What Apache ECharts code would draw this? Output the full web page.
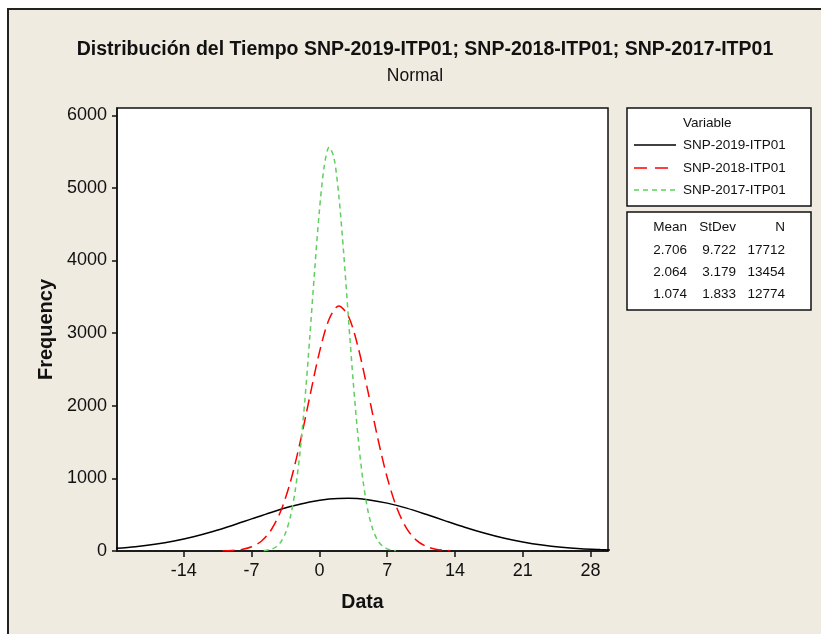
<!DOCTYPE html>
<html>
<head>
<meta charset="utf-8">
<script src="https://cdn.jsdelivr.net/npm/echarts@6/dist/echarts.min.js"></script>
<style>
html,body{margin:0;padding:0;background:#fff;}
#chart{width:821px;height:634px;}
</style>
</head>
<body>
<div id="chart"></div>
<script>
// curvas (Data, Frequency)
var x2019 = [-21,-19,-17,-15,-13,-11,-9,-7,-5,-3,-1,1,3,5,7,9,11,13,15,17,19,21,23,25,27,29,30];
var y2019 = [37,60,93,138,197,269,352,442,531,612,676,716,727,707,659,590,505,415,327,247,178,124,82,52,32,19,14];

var x2018 = [-10,-9,-8,-7,-6,-5,-4,-3,-2,-1,0,1,2,3,4,5,6,7,8,9,10,11,12,13,13.5];
var y2018 = [2,8,22,58,135,286,547,949,1491,2122,2735,3192,3375,3233,2804,2204,1569,1011,591,312,150,65,25,9,5];

var x2017 = [-5.75,-5,-4.5,-4,-3.5,-3,-2.5,-2,-1.5,-1,-0.5,0,0.5,1,1.5,2,2.5,3,3.5,4,4.5,5,5.5,6,6.5,7,7.5,7.9];
var y2017 = [5,23,55,121,247,471,832,1364,2076,2934,3849,4687,5299,5560,5417,4898,4112,3204,2318,1556,970,561,302,150,70,30,12,5];

var seriesNames = ['SNP-2019-ITP01','SNP-2018-ITP01','SNP-2017-ITP01'];
var seriesColors = ['#000000','#ff0000','#5fcf5f'];
var seriesDash = [null,[12,6],[5,4]];
var legendDash = [null,[13,8],[5,4]];
var xTicks = [-14,-7,0,7,14,21,28];
var yTicks = [0,1000,2000,3000,4000,5000,6000];
var statHead = ['Mean','StDev','N'];
var statRows = [
    ['2.706','9.722','17712'],
    ['2.064','3.179','13454'],
    ['1.074','1.833','12774']
];

function pairs(xs, ys){
    var out = [];
    for (var i = 0; i < xs.length; i++) out.push([xs[i], ys[i]]);
    return out;
}

var font = '"Liberation Sans", Arial, sans-serif';
var bg = '#efebe1';

// cuadro de leyenda hecho a mano
var legendItems = [];
var legendY = [145, 168, 190];
seriesNames.forEach(function(n, i){
    legendItems.push({type:'line', shape:{x1:634, y1:legendY[i], x2:676, y2:legendY[i]},
        style:{stroke:seriesColors[i], lineWidth:1.5, lineDash:legendDash[i]}});
    legendItems.push({type:'text', x:683, y:legendY[i], style:{text:n, font:'13.5px '+font, fill:'#111', align:'left', verticalAlign:'middle'}});
});

// tabla de estadisticos
var statCols = [687, 736, 785];
var statY = [227, 250, 272, 294];
var statTexts = [];
statHead.forEach(function(h, j){
    statTexts.push({type:'text', x:statCols[j], y:statY[0], style:{text:h, font:'13.5px '+font, fill:'#111', align:'right', verticalAlign:'middle'}});
});
statRows.forEach(function(r, i){
    r.forEach(function(v, j){
        statTexts.push({type:'text', x:statCols[j], y:statY[i+1], style:{text:v, font:'13.5px '+font, fill:'#111', align:'right', verticalAlign:'middle'}});
    });
});

var myChart = echarts.init(document.getElementById('chart'), null, {renderer:'canvas'});
var option = {
    backgroundColor: '#fff',
    animation: false,
    graphic: [
        {type:'rect', z:-10, shape:{x:8, y:9, width:830, height:640}, style:{fill:bg, stroke:'#222', lineWidth:2}},
        {type:'text', x:425, y:50, style:{text:'Distribución del Tiempo SNP-2019-ITP01; SNP-2018-ITP01; SNP-2017-ITP01', font:'bold 19.5px '+font, fill:'#111', align:'center', verticalAlign:'middle'}},
        {type:'text', x:415, y:76, style:{text:'Normal', font:'17.5px '+font, fill:'#111', align:'center', verticalAlign:'middle'}},
        {type:'rect', shape:{x:627, y:108, width:184, height:98}, style:{fill:'#fff', stroke:'#111', lineWidth:1.5}},
        {type:'rect', shape:{x:627, y:212, width:184, height:98}, style:{fill:'#fff', stroke:'#111', lineWidth:1.5}},
        {type:'text', x:683, y:123, style:{text:'Variable', font:'13.5px '+font, fill:'#111', align:'left', verticalAlign:'middle'}}
    ].concat(legendItems, statTexts),
    grid: {
        left: 117, top: 108, width: 491, height: 443,
        show: true, backgroundColor: '#fff', borderColor: '#111', borderWidth: 1.5
    },
    xAxis: {
        type: 'value',
        min: -20.9, max: 29.8,
        name: 'Data',
        nameLocation: 'middle',
        nameGap: 42,
        nameTextStyle: {fontFamily: font, fontSize: 19.5, fontWeight: 'bold', color: '#111'},
        splitLine: {show: false},
        axisLine: {show: true, onZero: false, lineStyle: {color: '#111', width: 1.5}},
        axisTick: {show: true, length: 6, customValues: xTicks, lineStyle: {color: '#111', width: 1.5}},
        axisLabel: {customValues: xTicks, margin: 11, fontFamily: font, fontSize: 18, color: '#111',
            formatter: function(v){ return String(v); }}
    },
    yAxis: {
        type: 'value',
        min: 0, max: 6100,
        name: 'Frequency',
        nameLocation: 'middle',
        nameGap: 60,
        nameTextStyle: {fontFamily: font, fontSize: 20, fontWeight: 'bold', color: '#111'},
        splitLine: {show: false},
        axisLine: {show: true, onZero: false, lineStyle: {color: '#111', width: 1.5}},
        axisTick: {show: true, length: 5, customValues: yTicks, lineStyle: {color: '#111', width: 1.5}},
        axisLabel: {customValues: yTicks, margin: 10, fontFamily: font, fontSize: 18, color: '#111',
            formatter: function(v){ return String(v); }}
    },
    series: seriesNames.map(function(n, i){
        var xs = [x2019, x2018, x2017][i];
        var ys = [y2019, y2018, y2017][i];
        return {
            name: n, type: 'line', showSymbol: false, symbol: 'none', smooth: 0.3,
            data: pairs(xs, ys),
            lineStyle: {color: seriesColors[i], width: 1.5, type: seriesDash[i] || 'solid'},
            itemStyle: {color: seriesColors[i]}
        };
    })
};
myChart.setOption(option);
</script>
</body>
</html>
